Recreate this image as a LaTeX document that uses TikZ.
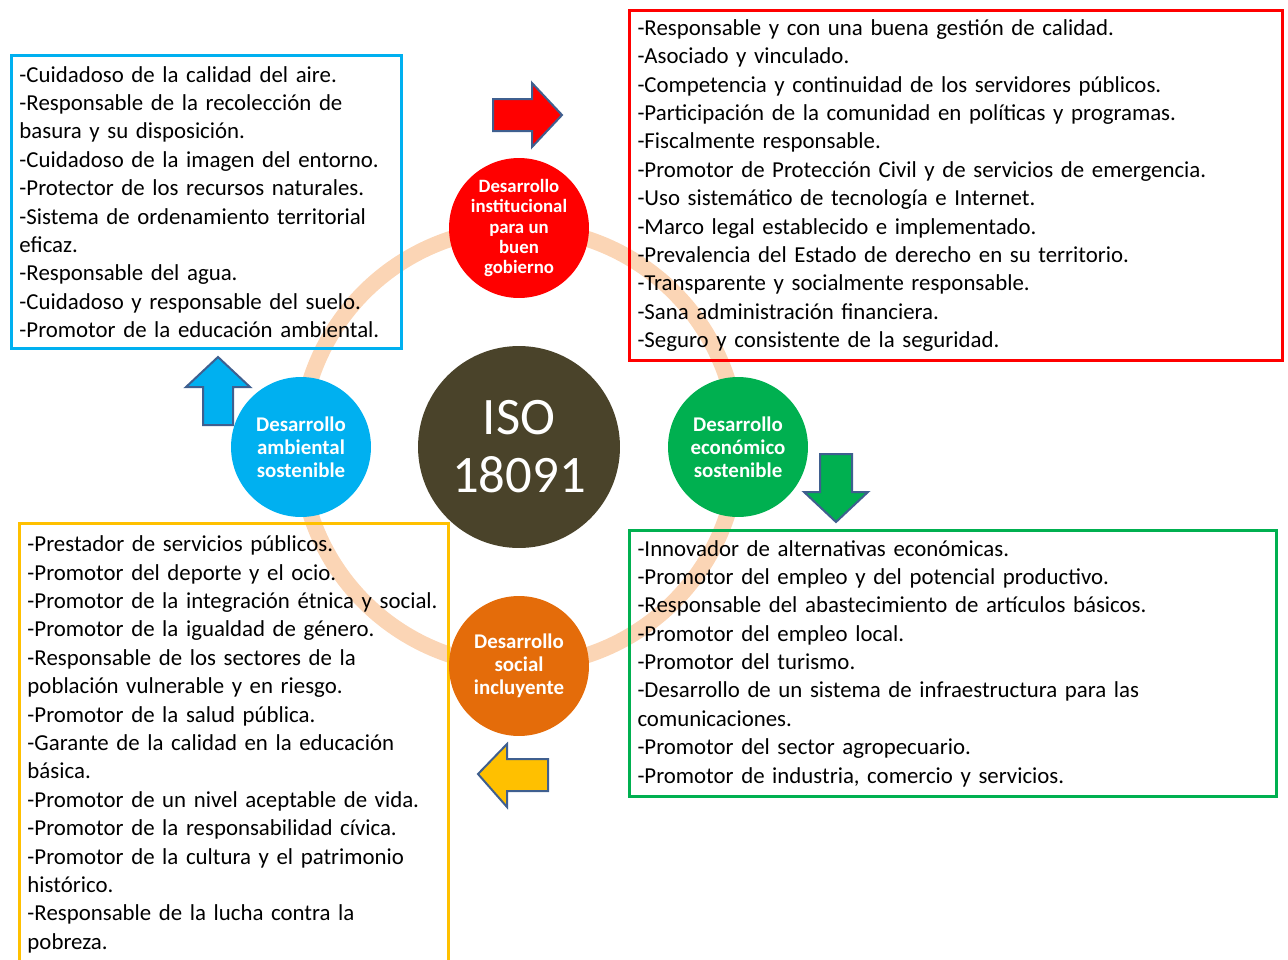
\documentclass[tikz,border=0pt]{standalone}
\usepackage{fontspec}
\setmainfont{Carlito}
\usetikzlibrary{positioning}
\hyphenpenalty=10000

\definecolor{ringpeach}{HTML}{FBD5B5}
\definecolor{isobrown}{HTML}{4A432A}
\definecolor{ecogreen}{HTML}{00B050}
\definecolor{socorange}{HTML}{E46C0A}
\definecolor{ambblue}{HTML}{00B0F0}
\definecolor{socyellow}{HTML}{FFC000}
\definecolor{arrowline}{HTML}{3F5F8F}

\begin{document}
\begin{tikzpicture}[x=0.02cm, y=-0.02cm,
ejecirc/.style = {circle, minimum size=2.8cm, inner sep=0pt,
  text=white, align=center, font=\bfseries\fontsize{11.9}{13}\selectfont},
listbox/.style = {draw, line width=0.06cm, anchor=north west,
  align=left, inner xsep=0.16cm, inner ysep=0.1cm,
  font=\fontsize{13}{16.16}\selectfont},
flecha/.style = {draw=arrowline, line width=0.04cm, line join=miter}]
\useasboundingbox (0,0) rectangle (1288,960);
\clip (0,0) rectangle (1288,960);

% anillo
\coordinate (centro) at (519,447);
\draw[ringpeach, line width=0.32cm] (centro) circle[radius=4.38cm];

% cuadros de texto
\node[listbox, draw=ambblue, text width=7.48cm, minimum height=5.86cm]
  (ambbox) at (10,54) {-Cuidadoso de la calidad del aire.\\
-Responsable de la recolección de\\
basura y su disposición.\\
-Cuidadoso de la imagen del entorno.\\
-Protector de los recursos naturales.\\
-Sistema de ordenamiento territorial\\
eficaz.\\
-Responsable del agua.\\
-Cuidadoso y responsable del suelo.\\
-Promotor de la educación ambiental.};
\node[listbox, draw=red, text width=12.74cm, minimum height=7cm]
  (instbox) at (628,9) {-Responsable y con una buena gestión de calidad.\\
-Asociado y vinculado.\\
-Competencia y continuidad de los servidores públicos.\\
-Participación de la comunidad en políticas y programas.\\
-Fiscalmente responsable.\\
-Promotor de Protección Civil y de servicios de emergencia.\\
-Uso sistemático de tecnología e Internet.\\
-Marco legal establecido e implementado.\\
-Prevalencia del Estado de derecho en su territorio.\\
-Transparente y socialmente responsable.\\
-Sana administración financiera.\\
-Seguro y consistente de la seguridad.};
\node[listbox, draw=ecogreen, text width=12.62cm, minimum height=5.32cm]
  (ecobox) at (628,529) {-Innovador de alternativas económicas.\\
-Promotor del empleo y del potencial productivo.\\
-Responsable del abastecimiento de artículos básicos.\\
-Promotor del empleo local.\\
-Promotor del turismo.\\
-Desarrollo de un sistema de infraestructura para las\\
comunicaciones.\\
-Promotor del sector agropecuario.\\
-Promotor de industria, comercio y servicios.};
\node[listbox, draw=socyellow, text width=8.26cm, minimum height=8.84cm]
  (socbox) at (18,522) {-Prestador de servicios públicos.\\
-Promotor del deporte y el ocio.\\
-Promotor de la integración étnica y~social.\\
-Promotor de la igualdad de género.\\
-Responsable de los sectores de la\\
población vulnerable y en riesgo.\\
-Promotor de la salud pública.\\
-Garante de la calidad en la educación\\
básica.\\
-Promotor de un nivel aceptable de vida.\\
-Promotor de la responsabilidad cívica.\\
-Promotor de la cultura y el patrimonio\\
histórico.\\
-Responsable de la lucha contra la\\
pobreza.};

% circulos
\node[circle, fill=isobrown, minimum size=4.04cm, inner sep=0pt, text=white,
  align=center, font=\fontsize{30}{33}\selectfont] (iso) at (centro) {ISO\\18091};
\node[ejecirc, fill=red, font=\bfseries\fontsize{10.7}{11.6}\selectfont]
  (inst) at (519,228) {Desarrollo\\institucional\\para un\\buen\\gobierno};
\node[ejecirc, fill=ecogreen] (eco) at (738,447) {Desarrollo\\económico\\sostenible};
\node[ejecirc, fill=socorange] (soc) at (519,666) {Desarrollo\\social\\incluyente};
\node[ejecirc, fill=ambblue] (amb) at (301,447) {Desarrollo\\ambiental\\sostenible};

% flechas
\draw[flecha, fill=red] (493,99) -- (532,99) -- (532,83) -- (562,115)
  -- (532,147) -- (532,131) -- (493,131) -- cycle;
\draw[flecha, fill=ecogreen] (820,454) -- (852,454) -- (852,492) -- (868,492)
  -- (836,522) -- (804,492) -- (820,492) -- cycle;
\draw[flecha, fill=socyellow] (548,759) -- (507,759) -- (507,744) -- (478,774)
  -- (507,807) -- (507,791) -- (548,791) -- cycle;
\draw[flecha, fill=ambblue] (203,425) -- (203,387) -- (186,387) -- (218,357)
  -- (250,387) -- (233,387) -- (233,425) -- cycle;
\end{tikzpicture}
\end{document}
